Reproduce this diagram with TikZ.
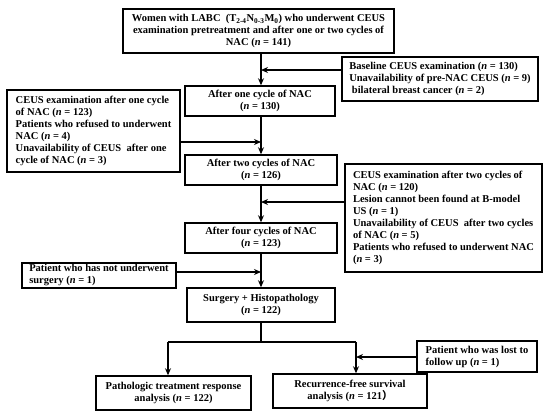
\documentclass[tikz,border=0pt]{standalone}
\usepackage{fontspec}
\setmainfont{Liberation Serif}
\newfontfamily\cjkfont{Noto Sans CJK SC}
\usetikzlibrary{arrows.meta}
\tikzset{
  box/.style={draw, line width=1.5pt, inner sep=0pt, font=\bfseries\fontsize{10.5}{12}\selectfont},
  lbox/.style={box, align=left},
  cbox/.style={box, align=center},
  arr/.style={line width=1.5pt, -{Stealth[length=7pt,width=6pt]}},
  ln/.style={line width=1.5pt},
}
\newcommand{\nn}{\textit{n}}
\begin{document}
\begin{tikzpicture}[x=1pt,y=-1pt]
\useasboundingbox (0,0) rectangle (550,418);
% boxes
\node[cbox, minimum width=271pt, minimum height=44pt] (top) at (258.5,31)
  {Women with LABC\ \ (T\textsubscript{2-4}N\textsubscript{0-3}M\textsubscript{0}) who underwent CEUS\\
   examination pretreatment and after one or two cycles of\\
   NAC (\nn{} = 141)};
\node[lbox, minimum width=196pt, minimum height=44pt] (base) at (440,79)
  {Baseline CEUS examination (\nn{} = 130)\\
   Unavailability of pre-NAC CEUS (\nn{} = 9)\\
   \ bilateral breast cancer (\nn{} = 2)};
\node[cbox, minimum width=150pt, minimum height=30pt] (one) at (260,101)
  {After one cycle of NAC\\(\nn{} = 130)};
\node[lbox, minimum width=173pt, minimum height=82pt] (left1) at (93.5,131)
  {CEUS examination after one cycle\\
   of NAC (\nn{} = 123)\\
   Patients who refused to underwent\\
   NAC (\nn{} = 4)\\
   Unavailability of CEUS\ \ after one\\
   cycle of NAC (\nn{} = 3)};
\node[cbox, minimum width=152pt, minimum height=30pt] (two) at (261,170)
  {After two cycles of NAC\\(\nn{} = 126)};
\node[lbox, minimum width=197pt, minimum height=108pt] (right2) at (443.5,218)
  {CEUS examination after two cycles of\\
   NAC (\nn{} = 120)\\
   Lesion cannot been found at B-model\\
   US (\nn{} = 1)\\
   Unavailability of CEUS\ \ after two cycles\\
   of NAC (\nn{} = 5)\\
   Patients who refused to underwent NAC\\
   (\nn{} = 3)};
\node[cbox, minimum width=152pt, minimum height=30pt] (four) at (261,238)
  {After four cycles of NAC\\(\nn{} = 123)};
\node[lbox, minimum width=154pt, minimum height=25pt] (pat) at (99,275.5)
  {Patient who has not underwent\\surgery (\nn{} = 1)};
\node[cbox, minimum width=148pt, minimum height=34pt] (surg) at (261,305)
  {Surgery + Histopathology\\(\nn{} = 122)};
\node[cbox, minimum width=155pt, minimum height=34pt] (path) at (173.5,393)
  {Pathologic treatment response\\analysis (\nn{} = 122)};
\node[cbox, minimum width=154pt, minimum height=34pt] (rec) at (350,391)
  {Recurrence-free survival\\analysis (\nn{} = 121{\cjkfont ）}};
\node[lbox, minimum width=120pt, minimum height=31pt] (lost) at (477,356.5)
  {Patient who was lost to\\follow up (\nn{} = 1)};
% junction coordinates
\coordinate (j1) at (261,70);
\coordinate (j2) at (261,142);
\coordinate (j3) at (261,202);
\coordinate (j4) at (261,272);
\coordinate (sp) at (261,342);
\coordinate (spl) at (168,342);
\coordinate (spr) at (356,342);
\coordinate (j5) at (356,357);
% connectors
\draw[arr] (top.south -| j1) -- (one.north -| j1);
\draw[arr] (j1 -| base.west) -- (j1);
\draw[arr] (one.south -| j2) -- (two.north -| j2);
\draw[arr] (j2 -| left1.east) -- (j2);
\draw[arr] (two.south -| j3) -- (four.north -| j3);
\draw[arr] (j3 -| right2.west) -- (j3);
\draw[arr] (four.south -| j4) -- (surg.north -| j4);
\draw[arr] (j4 -| pat.east) -- (j4);
\draw[ln] (surg.south -| sp) -- (sp);
\draw[ln] (spl) -- (spr);
\draw[arr] (spl) -- (path.north -| spl);
\draw[arr] (spr) -- (rec.north -| spr);
\draw[arr] (j5 -| lost.west) -- (j5);
\end{tikzpicture}
\end{document}
